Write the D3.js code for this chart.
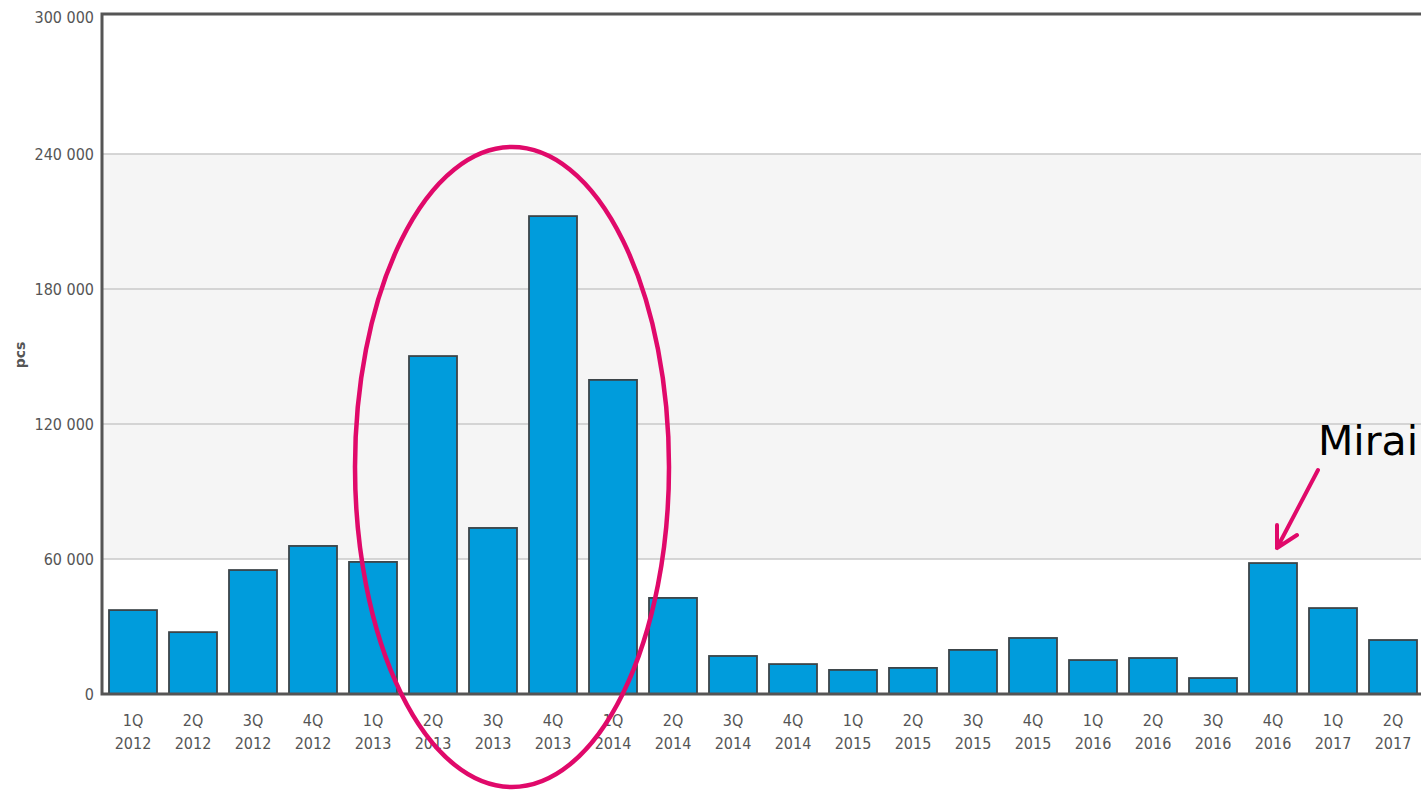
<!DOCTYPE html>
<html>
<head>
<meta charset="utf-8">
<script src="https://cdn.jsdelivr.net/npm/d3@7"></script>
<style>
  html, body { margin: 0; padding: 0; background: #fff; }
  svg { display: block; }
  .tick-label { font-family: "DejaVu Sans Condensed", "DejaVu Sans", sans-serif; font-size: 16px; fill: #555; }
</style>
</head>
<body>
<div id="chart"></div>
<script>
"use strict"

// data
const quarters = ["1Q","2Q","3Q","4Q","1Q","2Q","3Q","4Q","1Q","2Q","3Q","4Q","1Q","2Q","3Q","4Q","1Q","2Q","3Q","4Q","1Q","2Q"];
const years = ["2012","2012","2012","2012","2013","2013","2013","2013","2014","2014","2014","2014","2015","2015","2015","2015","2016","2016","2016","2016","2017","2017"];
const values = [37300, 27500, 55100, 65800, 58700, 150200, 73800, 212400, 139600, 42700, 16900, 13300, 10700, 11600, 19600, 24900, 15100, 16000, 7100, 58200, 38200, 24000];
const yTicks = [0, 60000, 120000, 180000, 240000, 300000];

const width = 1421,
  height = 792,
  margin = { top: 14, left: 102, bottom: 98 };

const svg = d3.select("#chart")
  .append("svg")
  .attr("width", width)
  .attr("height", height);

const x = d3.scaleBand()
  .domain(d3.range(values.length))
  .range([103, 103 + 60 * values.length])
  .paddingInner(0.2)
  .paddingOuter(0.1);

const y = d3.scaleLinear()
  .domain([0, 300000])
  .range([694, 19]);

// shaded band between 60k and 240k
svg.append("rect")
  .attr("x", margin.left)
  .attr("y", y(240000))
  .attr("width", width - margin.left)
  .attr("height", y(60000) - y(240000))
  .attr("fill", "#f5f5f5");

// gridlines
svg.append("g")
  .selectAll("line")
  .data(yTicks.slice(1, -1))
  .join("line")
    .attr("x1", margin.left)
    .attr("x2", width)
    .attr("y1", d => y(d))
    .attr("y2", d => y(d))
    .attr("stroke", "#c8c8c8")
    .attr("stroke-width", 1.5);

// y tick labels
svg.append("g")
  .selectAll("text")
  .data(yTicks)
  .join("text")
    .attr("class", "tick-label")
    .attr("x", 94)
    .attr("y", d => d === 300000 ? 17 : y(d))
    .attr("dy", "0.35em")
    .attr("text-anchor", "end")
    .text(d => d3.format(",")(d).replace(/,/g, " "));

// axis title
svg.append("text")
  .attr("transform", "translate(20,355) rotate(-90)")
  .attr("text-anchor", "middle")
  .attr("dy", "0.35em")
  .style("font", "bold 14px 'DejaVu Sans', sans-serif")
  .attr("fill", "#555")
  .text("pcs");

// bars
svg.append("g")
  .selectAll("rect")
  .data(values)
  .join("rect")
    .attr("x", (d, i) => x(i))
    .attr("y", d => y(d))
    .attr("width", x.bandwidth())
    .attr("height", d => y(0) - y(d))
    .attr("fill", "#009cdc")
    .attr("stroke", "#3c4448")
    .attr("stroke-width", 1.8);

// frame: left axis, top border, baseline
svg.append("path")
  .attr("d", `M${width},${margin.top}H${margin.left}V${y(0)}H${width}`)
  .attr("fill", "none")
  .attr("stroke", "#555")
  .attr("stroke-width", 3);

// x labels, two lines
const xl = svg.append("g")
  .selectAll("text")
  .data(values)
  .join("text")
    .attr("class", "tick-label")
    .attr("text-anchor", "middle")
    .attr("transform", (d, i) => `translate(${x(i) + x.bandwidth() / 2},0)`);
xl.append("tspan").attr("x", 0).attr("y", 726).text((d, i) => quarters[i]);
xl.append("tspan").attr("x", 0).attr("y", 749).text((d, i) => years[i]);

// annotation ellipse around 2013 spike
const magenta = "#e0096a";
svg.append("ellipse")
  .attr("cx", x(6) + x.bandwidth() / 2 + 19)
  .attr("cy", 467)
  .attr("rx", 157)
  .attr("ry", 320)
  .attr("fill", "none")
  .attr("stroke", magenta)
  .attr("stroke-width", 4.5);

// Mirai arrow
const tipX = x(19) + x.bandwidth() / 2 + 4,
  tipY = y(values[19]) - 15;
svg.append("path")
  .attr("d", `M1318,470L${tipX},${tipY}M${tipX},${tipY - 23}L${tipX},${tipY}L${tipX + 20},${tipY - 13}`)
  .attr("fill", "none")
  .attr("stroke", magenta)
  .attr("stroke-width", 4)
  .attr("stroke-linecap", "round")
  .attr("stroke-linejoin", "round");

svg.append("text")
  .attr("x", 1318)
  .attr("y", 455)
  .style("font", "41px 'DejaVu Sans', sans-serif")
  .attr("fill", "#000")
  .text("Mirai");
</script>
</body>
</html>
